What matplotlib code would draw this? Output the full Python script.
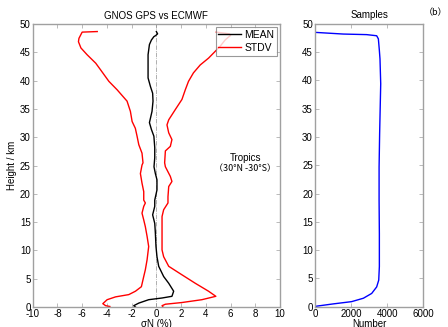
import matplotlib
matplotlib.use("Agg")
import matplotlib.pyplot as plt

plt.rcParams['font.family'] = ['Liberation Sans', 'Noto Sans CJK SC', 'DejaVu Sans']
plt.rcParams['font.size'] = 7
plt.rcParams['axes.unicode_minus'] = False

# --- Left panel: MEAN and STDV envelopes (sigma N, %) vs height (km) ---
stdv_left_x = [-4.78, -6.0, -6.26, -6.3, -6.1, -5.6, -4.9, -4.5, -3.84, -3.17, -2.37, -2.1,
               -1.96, -1.7, -1.56, -1.42, -1.16, -1.08, -1.16, -1.29, -1.16, -1.02, -1.02,
               -0.89, -1.02, -1.16, -1.02, -0.89, -0.75, -0.62, -0.75, -0.89, -1.02, -1.21,
               -1.69, -2.23, -3.3, -3.98, -4.33, -4.1, -3.76]
stdv_left_h = [48.7, 48.6, 47.5, 46.9, 45.8, 44.6, 43.1, 41.9, 39.9, 38.4, 36.4, 34.6,
               32.8, 31.6, 30.2, 28.7, 27.2, 25.5, 25.1, 23.6, 21.9, 20.4, 18.9,
               18.4, 17.8, 16.6, 15.4, 14.2, 12.5, 10.7, 8.35, 6.6, 5.4, 3.6,
               2.8, 2.2, 1.8, 1.3, 0.6, 0.24, 0.1]

stdv_right_x = [4.85, 5.9, 6.0, 5.85, 5.56, 5.16, 4.76, 4.22, 3.55, 3.0, 2.6, 2.34, 2.07,
                1.53, 1.0, 0.86, 1.0, 1.26, 1.13, 0.73, 0.67, 0.73, 1.13, 1.26, 1.0, 0.94,
                0.94, 0.59, 0.46, 0.46, 0.46, 0.46, 0.59, 1.0, 2.07, 3.15, 4.22, 4.81,
                3.68, 2.07, 0.73, 0.46, 0.54]
stdv_right_h = [48.6, 48.3, 48.0, 47.75, 47.2, 46.1, 45.2, 44.0, 42.8, 41.4, 39.9, 38.4, 36.7,
                34.9, 33.1, 32.2, 30.8, 29.6, 28.4, 27.6, 25.5, 24.8, 23.1, 22.2, 21.3, 19.5,
                18.4, 17.2, 16.0, 14.2, 11.9, 10.1, 8.9, 7.2, 5.7, 4.2, 2.8, 1.9,
                1.3, 0.8, 0.5, 0.24, 0.0]

mean_x = [0.0, 0.1, -0.05, -0.2, -0.4, -0.56, -0.67, -0.67, -0.67, -0.48, -0.3, -0.27,
          -0.35, -0.56, -0.4, -0.2, -0.13, -0.13, -0.19, -0.08, 0.05, 0.05, -0.13, -0.13,
          -0.3, -0.13, -0.08, -0.03, 0.05, 0.19, 0.59, 1.0, 1.4, 1.26, 0.46, -0.62,
          -1.42, -1.83, -1.69]
mean_h = [48.7, 48.3, 48.0, 47.8, 47.2, 46.4, 44.6, 42.2, 40.5, 39.0, 37.8, 36.4,
          34.6, 32.6, 31.4, 30.2, 28.2, 26.4, 24.8, 23.6, 22.5, 20.7, 18.9, 17.8,
          16.3, 14.8, 13.1, 10.7, 8.9, 7.2, 5.4, 4.2, 2.8, 1.9, 1.6, 1.3,
          0.7, 0.24, 0.0]

# --- Right panel: number of samples vs height ---
samples_n = [0, 1570, 2860, 3416, 3510, 3565, 3600, 3640, 3620, 3580, 3550, 3550,
             3565, 3565, 3530, 3416, 3140, 2680, 2030, 1015, 92, 0]
samples_h = [48.5, 48.2, 48.1, 47.9, 47.35, 45.3, 43.8, 39.4, 36.5, 30.6, 24.7, 18.8,
             12.9, 7.1, 4.7, 3.5, 2.35, 1.5, 0.9, 0.5, 0.1, 0.0]

fig = plt.figure(figsize=(4.48, 3.27), dpi=100)
ax1 = fig.add_axes([0.073, 0.061, 0.552, 0.865])
ax2 = fig.add_axes([0.703, 0.062, 0.242, 0.865])

frame_col = '#a0a0a0'
cjk = ['Noto Sans CJK SC', 'DejaVu Sans']

ax1.axvline(0, color='#909090', linestyle='-.', linewidth=0.5)
ax1.plot(mean_x, mean_h, color='black', linewidth=1.0, label='MEAN')
ax1.plot(stdv_left_x, stdv_left_h, color='#ff0000', linewidth=1.0, label='STDV')
ax1.plot(stdv_right_x, stdv_right_h, color='#ff0000', linewidth=1.0)
ax1.set_xlim(-10, 10)
ax1.set_ylim(0, 50)
ax1.set_xticks(range(-10, 11, 2))
ax1.set_yticks(range(0, 51, 5))
ax1.set_title('GNOS GPS vs ECMWF', fontsize=7, pad=4)
ax1.set_xlabel('σN (%)', labelpad=0)
ax1.set_ylabel('Height / km', labelpad=2)
ax1.text(7.2, 26.3, 'Tropics', ha='center', va='center', fontsize=7)
ax1.text(7.2, 24.4, '（30°N -30°S）', ha='center', va='center', fontsize=6.5,
         family=cjk)
leg = ax1.legend(loc='upper right', handlelength=2.2, handletextpad=0.3,
                 borderaxespad=0.3, borderpad=0.25, labelspacing=0.3,
                 fancybox=False, fontsize=7.5)
leg.get_frame().set_edgecolor('#808080')
leg.get_frame().set_linewidth(0.8)

ax2.plot(samples_n, samples_h, color='#0000ff', linewidth=1.0)
ax2.set_xlim(0, 6000)
ax2.set_ylim(0, 50)
ax2.set_xticks([0, 2000, 4000, 6000])
ax2.set_yticks(range(0, 51, 5))
ax2.set_title('Samples', fontsize=7, pad=4)
ax2.set_xlabel('Number', labelpad=0)

for ax in (ax1, ax2):
    ax.tick_params(direction='in', top=True, right=True, length=3, width=0.5,
                   pad=1.5, colors='black', labelsize=7)
    ax.tick_params(axis='both', color=frame_col)
    for sp in ax.spines.values():
        sp.set_color(frame_col)
        sp.set_linewidth(1.0)

fig.text(0.945, 0.962, '（b）', fontsize=6.5, ha='left', va='center', family=cjk)

fig.savefig('out.png', dpi=100)
